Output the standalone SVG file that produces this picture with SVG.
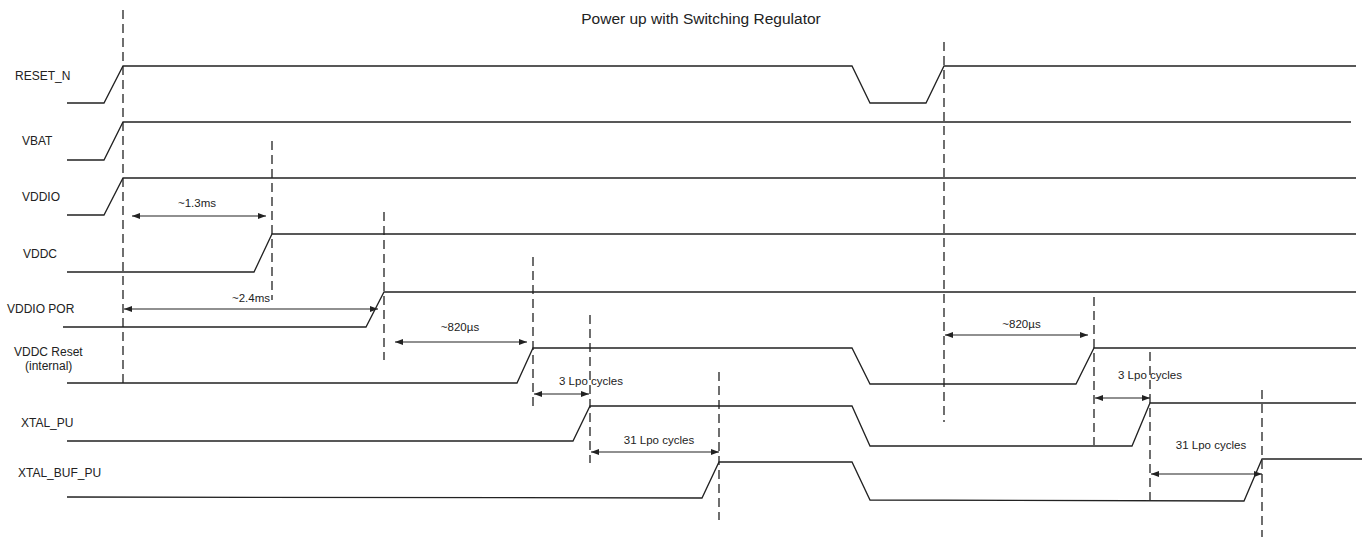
<svg xmlns="http://www.w3.org/2000/svg" width="1362" height="537" viewBox="0 0 1362 537">
<style>
.sig{fill:none;stroke:#222;stroke-width:1.3;stroke-linejoin:miter}
.dash{fill:none;stroke:#222;stroke-width:1.3;stroke-dasharray:9 5}
.arr{fill:none;stroke:#222;stroke-width:1.2;marker-start:url(#ah);marker-end:url(#ah)}
.lbl{font-family:"Liberation Sans",Arial,sans-serif;font-size:12px;fill:#222}
.al{font-family:"Liberation Sans",Arial,sans-serif;font-size:11.5px;fill:#222;text-anchor:middle}
.title{font-family:"Liberation Sans",Arial,sans-serif;font-size:15.5px;fill:#222;text-anchor:middle}
</style>
<defs>
<marker id="ah" markerUnits="userSpaceOnUse" markerWidth="8" markerHeight="6" refX="8" refY="3" orient="auto-start-reverse">
<path d="M0,0 L8,3 L0,6 z" fill="#222"/>
</marker>
</defs>
<rect width="1362" height="537" fill="#fff"/>
<text class="title" x="701" y="24">Power up with Switching Regulator</text>

<g id="RESET_N">
<text class="lbl" x="15" y="79.5">RESET_N</text>
<polyline class="sig" points="67,103 104,103 123,66 852,66 870,103 926,103 944,66 1356,66"/>
</g>
<g id="VBAT">
<text class="lbl" x="22" y="144.5">VBAT</text>
<polyline class="sig" points="67,160 104,160 123,122 1351,122"/>
</g>
<g id="VDDIO">
<text class="lbl" x="22" y="200.5">VDDIO</text>
<polyline class="sig" points="67,215 104,215 123,178 1356,178"/>
</g>
<g id="VDDC">
<text class="lbl" x="23" y="257.5">VDDC</text>
<polyline class="sig" points="67,272 254,272 272,234 1356,234"/>
</g>
<g id="VDDIO_POR">
<text class="lbl" x="7" y="312.5">VDDIO POR</text>
<polyline class="sig" points="63,327 366,327 384,292 1356,292"/>
</g>
<g id="VDDC_Reset">
<text class="lbl" x="14" y="356">VDDC Reset</text>
<text class="lbl" x="25" y="370">(internal)</text>
<polyline class="sig" points="67,383 517,383 533,348 852,348 870,384 1076,384 1094,348 1356,348"/>
</g>
<g id="XTAL_PU">
<text class="lbl" x="21" y="426.5">XTAL_PU</text>
<polyline class="sig" points="67,441 573,441 590,406 852,406 870,446 1132,446 1150,403 1356,403"/>
</g>
<g id="XTAL_BUF_PU">
<text class="lbl" x="18" y="477">XTAL_BUF_PU</text>
<polyline class="sig" points="67,497 702,498 719,462 852,462 870,500 1244,501 1262,459 1362,459"/>
</g>

<g id="connectors">
<line class="dash" x1="123" y1="10" x2="123" y2="388"/>
<line class="dash" x1="272" y1="141" x2="272" y2="300"/>
<line class="dash" x1="384" y1="212" x2="384" y2="360"/>
<line class="dash" x1="533" y1="257" x2="533" y2="406"/>
<line class="dash" x1="590" y1="315" x2="590" y2="463"/>
<line class="dash" x1="719" y1="372" x2="719" y2="520"/>
<line class="dash" x1="944" y1="42" x2="944" y2="422"/>
<line class="dash" x1="1094" y1="297" x2="1094" y2="445"/>
<line class="dash" x1="1150" y1="352" x2="1150" y2="500"/>
<line class="dash" x1="1262" y1="390" x2="1262" y2="537"/>

<line class="arr" x1="132" y1="216" x2="266" y2="216"/>
<line class="arr" x1="124" y1="309" x2="378" y2="309"/>
<line class="arr" x1="395" y1="342" x2="527" y2="342"/>
<line class="arr" x1="534" y1="394" x2="589" y2="394"/>
<line class="arr" x1="591" y1="452" x2="719" y2="452"/>
<line class="arr" x1="945" y1="335" x2="1088" y2="335"/>
<line class="arr" x1="1095" y1="398" x2="1150" y2="398"/>
<line class="arr" x1="1151" y1="474" x2="1262" y2="474"/>

<text class="al" x="197" y="207">~1.3ms</text>
<text class="al" x="251" y="301.5">~2.4ms</text>
<text class="al" x="460" y="330.5">~820µs</text>
<text class="al" x="591" y="384.5">3 Lpo cycles</text>
<text class="al" x="659" y="443.5">31 Lpo cycles</text>
<text class="al" x="1021.5" y="327.5">~820µs</text>
<text class="al" x="1150" y="378.5">3 Lpo cycles</text>
<text class="al" x="1211" y="448.5">31 Lpo cycles</text>
</g>
</svg>
